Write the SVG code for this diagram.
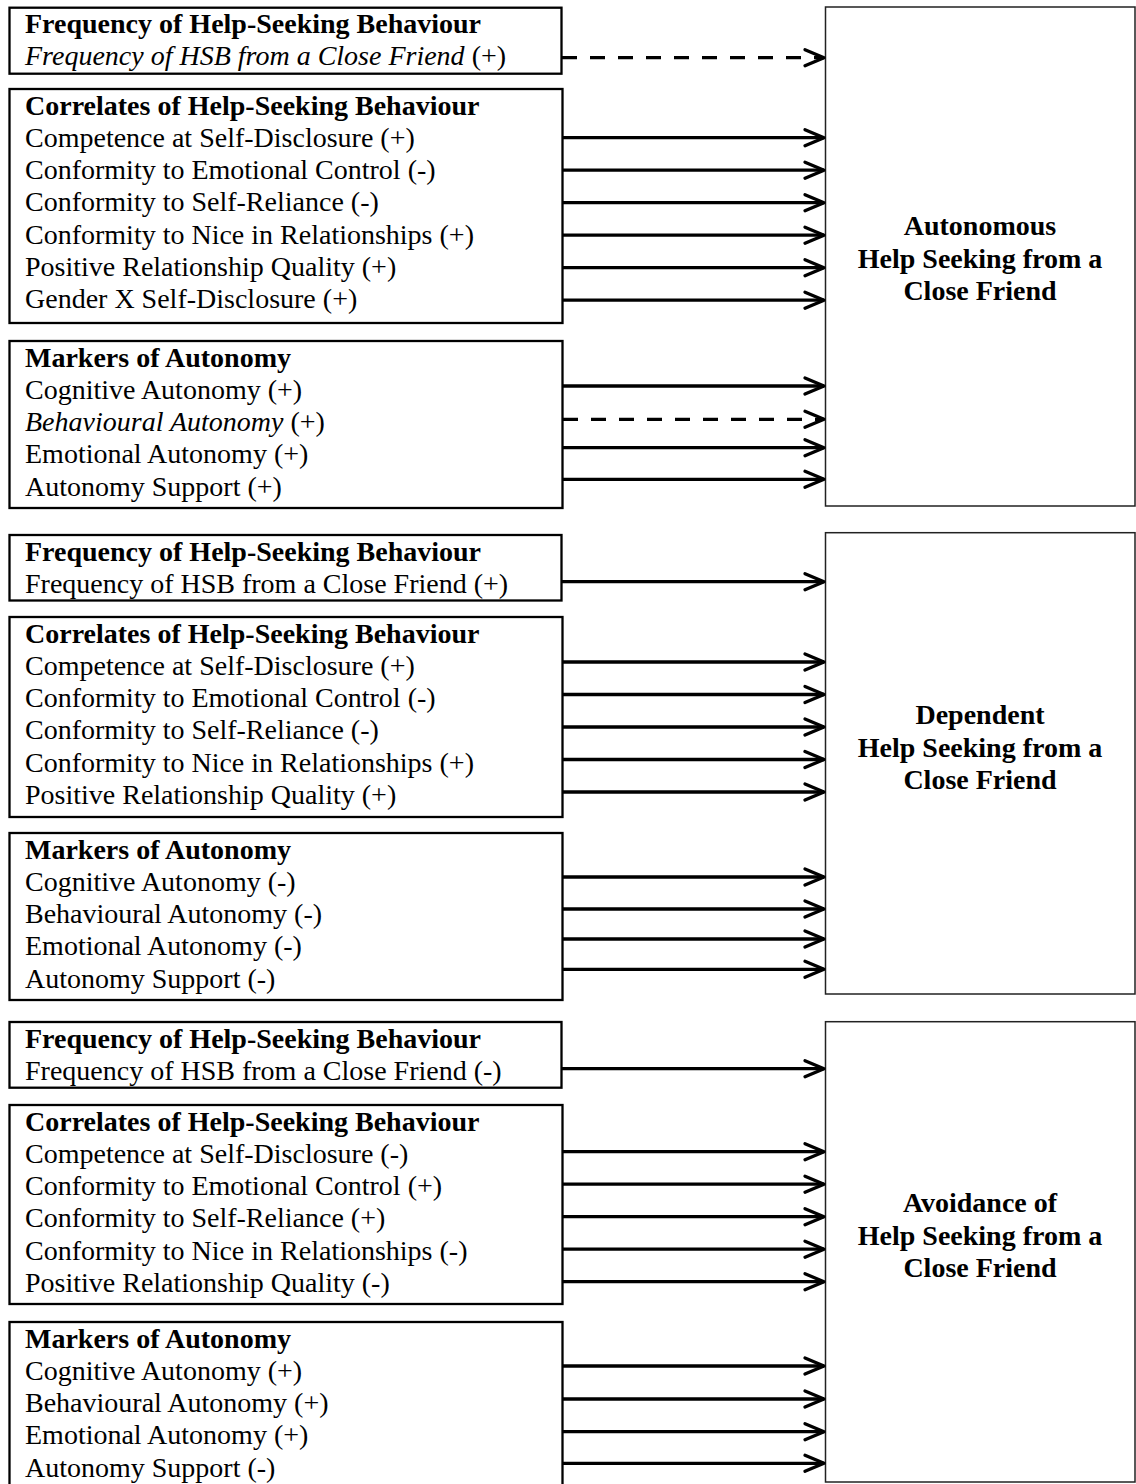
<svg xmlns="http://www.w3.org/2000/svg" width="1136" height="1484" viewBox="0 0 1136 1484">
<style>
.bx{fill:#fff;stroke:#000;stroke-width:2.3}
.rb{fill:#fff;stroke:#222;stroke-width:1.5}
.t{font-family:"Liberation Serif","Times New Roman",serif;font-size:28px;fill:#000}
.b{font-weight:bold}
.i{font-style:italic}
.c{text-anchor:middle;font-weight:bold}
.ar{stroke:#000;stroke-width:3.3;fill:none}
.ds{stroke-dasharray:15 13}
</style>
<defs>
<marker id="ah" markerUnits="userSpaceOnUse" markerWidth="30" markerHeight="30" viewBox="-25 -15 30 30" refX="0" refY="0" orient="auto">
<path d="M-19,-8 L0,0 L-19,8" fill="none" stroke="#000" stroke-width="3.3" stroke-linecap="round" stroke-linejoin="round" stroke-dasharray="none"/>
</marker>
</defs>

<!-- Section 1 -->
<g id="s1-frequency" class="t">
<rect class="bx" x="9.5" y="7.7" width="552" height="66"/>
<text x="25" y="32.5" class="b">Frequency of Help-Seeking Behaviour</text>
<text x="25" y="65"><tspan class="i">Frequency of HSB from a Close Friend</tspan> (+)</text>
</g>
<g id="s1-correlates" class="t">
<rect class="bx" x="9.5" y="89" width="553" height="234"/>
<text x="25" y="114.5" class="b">Correlates of Help-Seeking Behaviour</text>
<text x="25" y="146.8">Competence at Self-Disclosure (+)</text>
<text x="25" y="179.1">Conformity to Emotional Control (-)</text>
<text x="25" y="211.4">Conformity to Self-Reliance (-)</text>
<text x="25" y="243.7">Conformity to Nice in Relationships (+)</text>
<text x="25" y="276">Positive Relationship Quality (+)</text>
<text x="25" y="308.3">Gender X Self-Disclosure (+)</text>
</g>
<g id="s1-markers" class="t">
<rect class="bx" x="9.5" y="341" width="553" height="167"/>
<text x="25" y="366.5" class="b">Markers of Autonomy</text>
<text x="25" y="398.8">Cognitive Autonomy (+)</text>
<text x="25" y="431.1"><tspan class="i">Behavioural Autonomy</tspan> (+)</text>
<text x="25" y="463.4">Emotional Autonomy (+)</text>
<text x="25" y="495.7">Autonomy Support (+)</text>
</g>
<g id="s1-outcome" class="t">
<rect class="rb" x="825.5" y="7" width="309.5" height="499"/>
<text x="980" y="235" class="c">Autonomous</text>
<text x="980" y="267.5" class="c">Help Seeking from a</text>
<text x="980" y="300" class="c">Close Friend</text>
</g>

<!-- Section 2 -->
<g id="s2-frequency" class="t">
<rect class="bx" x="9.5" y="535" width="552" height="65.5"/>
<text x="25" y="560.5" class="b">Frequency of Help-Seeking Behaviour</text>
<text x="25" y="592.8">Frequency of HSB from a Close Friend (+)</text>
</g>
<g id="s2-correlates" class="t">
<rect class="bx" x="9.5" y="617" width="553" height="200"/>
<text x="25" y="642.5" class="b">Correlates of Help-Seeking Behaviour</text>
<text x="25" y="674.8">Competence at Self-Disclosure (+)</text>
<text x="25" y="707.1">Conformity to Emotional Control (-)</text>
<text x="25" y="739.4">Conformity to Self-Reliance (-)</text>
<text x="25" y="771.7">Conformity to Nice in Relationships (+)</text>
<text x="25" y="804">Positive Relationship Quality (+)</text>
</g>
<g id="s2-markers" class="t">
<rect class="bx" x="9.5" y="833" width="553" height="167"/>
<text x="25" y="858.5" class="b">Markers of Autonomy</text>
<text x="25" y="890.8">Cognitive Autonomy (-)</text>
<text x="25" y="923.1">Behavioural Autonomy (-)</text>
<text x="25" y="955.4">Emotional Autonomy (-)</text>
<text x="25" y="987.7">Autonomy Support (-)</text>
</g>
<g id="s2-outcome" class="t">
<rect class="rb" x="825.5" y="532.7" width="309.5" height="461.3"/>
<text x="980" y="724" class="c">Dependent</text>
<text x="980" y="756.5" class="c">Help Seeking from a</text>
<text x="980" y="789" class="c">Close Friend</text>
</g>

<!-- Section 3 -->
<g id="s3-frequency" class="t">
<rect class="bx" x="9.5" y="1022" width="552" height="65.7"/>
<text x="25" y="1047.5" class="b">Frequency of Help-Seeking Behaviour</text>
<text x="25" y="1079.8">Frequency of HSB from a Close Friend (-)</text>
</g>
<g id="s3-correlates" class="t">
<rect class="bx" x="9.5" y="1105" width="553" height="199"/>
<text x="25" y="1130.5" class="b">Correlates of Help-Seeking Behaviour</text>
<text x="25" y="1162.8">Competence at Self-Disclosure (-)</text>
<text x="25" y="1195.1">Conformity to Emotional Control (+)</text>
<text x="25" y="1227.4">Conformity to Self-Reliance (+)</text>
<text x="25" y="1259.7">Conformity to Nice in Relationships (-)</text>
<text x="25" y="1292">Positive Relationship Quality (-)</text>
</g>
<g id="s3-markers" class="t">
<rect class="bx" x="9.5" y="1322" width="553" height="170"/>
<text x="25" y="1347.5" class="b">Markers of Autonomy</text>
<text x="25" y="1379.8">Cognitive Autonomy (+)</text>
<text x="25" y="1412.1">Behavioural Autonomy (+)</text>
<text x="25" y="1444.4">Emotional Autonomy (+)</text>
<text x="25" y="1476.7">Autonomy Support (-)</text>
</g>
<g id="s3-outcome" class="t">
<rect class="rb" x="825.5" y="1021.7" width="309.5" height="460.3"/>
<text x="980" y="1212" class="c">Avoidance of</text>
<text x="980" y="1244.5" class="c">Help Seeking from a</text>
<text x="980" y="1277" class="c">Close Friend</text>
</g>

<g id="connectors" class="ar" marker-end="url(#ah)">
<line class="ds" x1="562" y1="57.7" x2="824" y2="57.7"/>
<line x1="563" y1="137.7" x2="824" y2="137.7"/>
<line x1="563" y1="170.2" x2="824" y2="170.2"/>
<line x1="563" y1="202.7" x2="824" y2="202.7"/>
<line x1="563" y1="235.2" x2="824" y2="235.2"/>
<line x1="563" y1="267.7" x2="824" y2="267.7"/>
<line x1="563" y1="300.2" x2="824" y2="300.2"/>
<line x1="563" y1="386" x2="824" y2="386"/>
<line class="ds" x1="563" y1="419.3" x2="824" y2="419.3"/>
<line x1="563" y1="447.7" x2="824" y2="447.7"/>
<line x1="563" y1="479.3" x2="824" y2="479.3"/>

<line x1="562" y1="581.7" x2="824" y2="581.7"/>
<line x1="563" y1="662" x2="824" y2="662"/>
<line x1="563" y1="694.5" x2="824" y2="694.5"/>
<line x1="563" y1="727" x2="824" y2="727"/>
<line x1="563" y1="759.5" x2="824" y2="759.5"/>
<line x1="563" y1="792" x2="824" y2="792"/>
<line x1="563" y1="877" x2="824" y2="877"/>
<line x1="563" y1="909" x2="824" y2="909"/>
<line x1="563" y1="939" x2="824" y2="939"/>
<line x1="563" y1="969.3" x2="824" y2="969.3"/>

<line x1="562" y1="1068.7" x2="824" y2="1068.7"/>
<line x1="563" y1="1151.7" x2="824" y2="1151.7"/>
<line x1="563" y1="1184.2" x2="824" y2="1184.2"/>
<line x1="563" y1="1216.7" x2="824" y2="1216.7"/>
<line x1="563" y1="1249.2" x2="824" y2="1249.2"/>
<line x1="563" y1="1281.7" x2="824" y2="1281.7"/>
<line x1="563" y1="1366" x2="824" y2="1366"/>
<line x1="563" y1="1399" x2="824" y2="1399"/>
<line x1="563" y1="1431.7" x2="824" y2="1431.7"/>
<line x1="563" y1="1463.3" x2="824" y2="1463.3"/>
</g>
</svg>
